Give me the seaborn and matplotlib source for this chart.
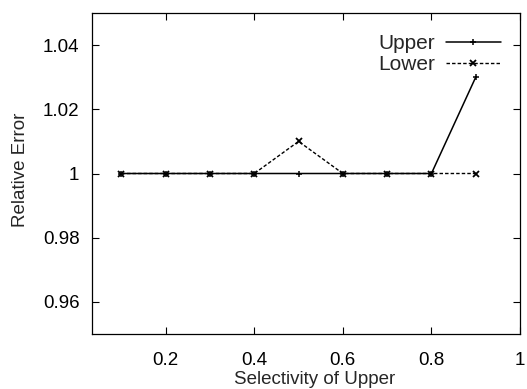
import matplotlib
matplotlib.use("Agg")
import matplotlib.pyplot as plt
import seaborn as sns
import pandas as pd

selectivity = [0.1, 0.2, 0.3, 0.4, 0.5, 0.6, 0.7, 0.8, 0.9]
upper = [1.0, 1.0, 1.0, 1.0, 1.0, 1.0, 1.0, 1.0, 1.03]
lower = [1.0, 1.0, 1.0, 1.0, 1.01, 1.0, 1.0, 1.0, 1.0]
xticks = [0.2, 0.4, 0.6, 0.8, 1.0]
xticklabels = ["0.2", "0.4", "0.6", "0.8", "1"]
yticks = [0.96, 0.98, 1.0, 1.02, 1.04]
yticklabels = ["0.96", "0.98", "1", "1.02", "1.04"]

sns.set_style("ticks")
plt.rcParams['font.family'] = ['Liberation Sans', 'DejaVu Sans']

df = pd.DataFrame({"x": selectivity * 2,
                   "y": upper + lower,
                   "s": ["Upper"] * len(upper) + ["Lower"] * len(lower)})

fig = plt.figure(figsize=(5.27, 3.89), dpi=100)
ax = fig.add_axes([92/527, 1 - 334/389, (520-92)/527, (334-13)/389])

sns.lineplot(data=df[df.s == "Upper"], x="x", y="y", ax=ax, color="black",
             linewidth=1.1, marker="+", markersize=5, markeredgewidth=1.1,
             markeredgecolor="black", markerfacecolor="black",
             label="Upper", zorder=4)
sns.lineplot(data=df[df.s == "Lower"], x="x", y="y", ax=ax, color="black",
             linewidth=1.0, linestyle=(0, (2.5, 1.5)), marker="x", markersize=4,
             markeredgewidth=1.3, markeredgecolor="black", markerfacecolor="black",
             label="Lower", zorder=3)

ax.set_xlim(0.0335, 1.0)
ax.set_ylim(0.95, 1.05)
ax.set_xticks(xticks)
ax.set_xticklabels(xticklabels)
ax.set_yticks(yticks)
ax.set_yticklabels(yticklabels)
ax.tick_params(direction="in", top=True, right=True, length=5, width=0.8,
               labelsize=13.5, colors="black")
ax.tick_params(axis="x", pad=13)
ax.tick_params(axis="y", pad=9)
for sp in ax.spines.values():
    sp.set_visible(True)
    sp.set_linewidth(0.9)
    sp.set_color("black")

ax.set_xlabel("Selectivity of Upper", fontsize=13.5, labelpad=1)
ax.set_ylabel("Relative Error", fontsize=13.5, labelpad=10)
ax.xaxis.set_label_coords(0.519, -0.115)
ax.yaxis.label.set_y(0.511)

leg = ax.legend(loc="upper right", bbox_to_anchor=(0.974, 0.961), frameon=False,
                markerfirst=False, fontsize=15, handlelength=2.6, numpoints=1,
                handletextpad=0.55, labelspacing=0.1, borderaxespad=0)

fig.savefig("out.png", dpi=100)
